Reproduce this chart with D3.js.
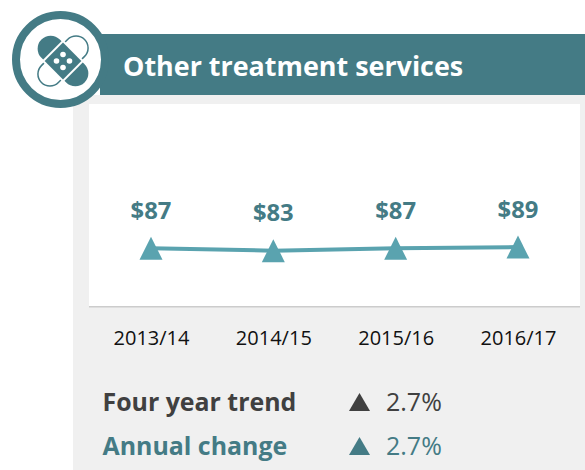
<!DOCTYPE html>
<html><head><meta charset="utf-8">
<script src="https://cdn.jsdelivr.net/npm/d3@7"></script>
<style>html,body{margin:0;padding:0;background:#fff}svg{display:block}text{font-family:"Open Sans",sans-serif}</style>
</head><body><svg id="c" width="585" height="470"></svg>
<script>
const years=["2013/14","2014/15","2015/16","2016/17"];
const spending=[87,83,87,89];
const valueLabels=["$87","$83","$87","$89"];
const title="Other treatment services";
const summaryLabels=["Four year trend","Annual change"];
const summaryValues=["2.7%","2.7%"];
const teal="#447b85",markTeal="#5aa3af",dark="#404040";
const svg=d3.select("#c");
svg.append("rect").attr("x",73).attr("y",95).attr("width",512).attr("height",375).attr("fill","#f0f0f0");
svg.append("rect").attr("x",89).attr("y",104).attr("width",491).attr("height",202).attr("fill","#fff");
svg.append("rect").attr("x",89).attr("y",306).attr("width",491).attr("height",1.5).attr("fill","#cccccc");
svg.append("rect").attr("x",100).attr("y",34).attr("width",485).attr("height",61).attr("fill",teal);
svg.append("text").attr("x",123).attr("y",76).attr("font-size",26.9).attr("font-weight",700).attr("fill","#fff").text(title);
// badge
svg.append("circle").attr("cx",60.5).attr("cy",59.5).attr("r",44.5).attr("fill","#fff").attr("stroke",teal).attr("stroke-width",8);
const icon=svg.append("g").attr("transform","translate(63,61)");
const a=icon.append("g").attr("transform","rotate(-45)");
a.append("rect").attr("x",-30.5).attr("y",-12).attr("width",61).attr("height",24).attr("rx",12).attr("fill","#fff").attr("stroke",teal).attr("stroke-width",1.5);
const b=icon.append("g").attr("transform","rotate(45)");
b.append("rect").attr("x",-30.5).attr("y",-13).attr("width",61).attr("height",26).attr("rx",13).attr("fill",teal);
b.append("rect").attr("x",-15).attr("y",-15).attr("width",30).attr("height",30).attr("fill","#fff");
b.append("rect").attr("x",-13).attr("y",-13).attr("width",26).attr("height",26).attr("fill",teal);
[[0,-6.5],[0,6.5],[-6.5,0],[6.5,0]].forEach(p=>icon.append("circle").attr("cx",p[0]).attr("cy",p[1]).attr("r",2.8).attr("fill","#fff"));
// chart
const x=d3.scalePoint().domain(years).range([151,518]);
const y=d3.scaleLinear().domain([0,100]).range([300.5,240.5]);
const tri=(w,h)=>({draw(c){c.moveTo(0,-h/2);c.lineTo(w/2,h/2);c.lineTo(-w/2,h/2);c.closePath();}});
const rows=years.map((d,i)=>({year:d,v:spending[i],label:valueLabels[i]}));
svg.append("path").datum(rows).attr("fill","none").attr("stroke",markTeal).attr("stroke-width",4)
  .attr("d",d3.line().x(d=>x(d.year)).y(d=>y(d.v)));
svg.selectAll(".m").data(rows).join("path").attr("class","m").attr("fill",markTeal)
  .attr("transform",d=>`translate(${x(d.year)},${y(d.v)})`)
  .attr("d",d3.symbol().type(tri(23,23)));
svg.selectAll(".v").data(rows).join("text").attr("class","v").attr("text-anchor","middle")
  .attr("x",d=>x(d.year)).attr("y",d=>y(d.v)-29.5).attr("font-size",23.8).attr("font-weight",700).attr("fill",teal).text(d=>d.label);
const ax=svg.append("g").attr("transform","translate(0,345)").call(d3.axisBottom(x).tickSize(0).tickPadding(0));
ax.select(".domain").remove();
ax.selectAll("text").attr("y",0).attr("dy",0).attr("font-size",20).attr("fill","#111").style("font-family",'"Open Sans",sans-serif');
// summary
const sy=[411,455],sc=[dark,teal];
summaryLabels.forEach((t,i)=>{
  svg.append("text").attr("x",102.5).attr("y",sy[i]).attr("font-size",24.9).attr("font-weight",700).attr("fill",sc[i]).text(t);
  svg.append("path").attr("fill",sc[i]).attr("transform",`translate(359.5,${sy[i]-9})`).attr("d",d3.symbol().type(tri(21,18)));
  svg.append("text").attr("x",386).attr("y",sy[i]).attr("font-size",25).attr("fill",sc[i]).text(summaryValues[i]);
});
</script></body></html>
